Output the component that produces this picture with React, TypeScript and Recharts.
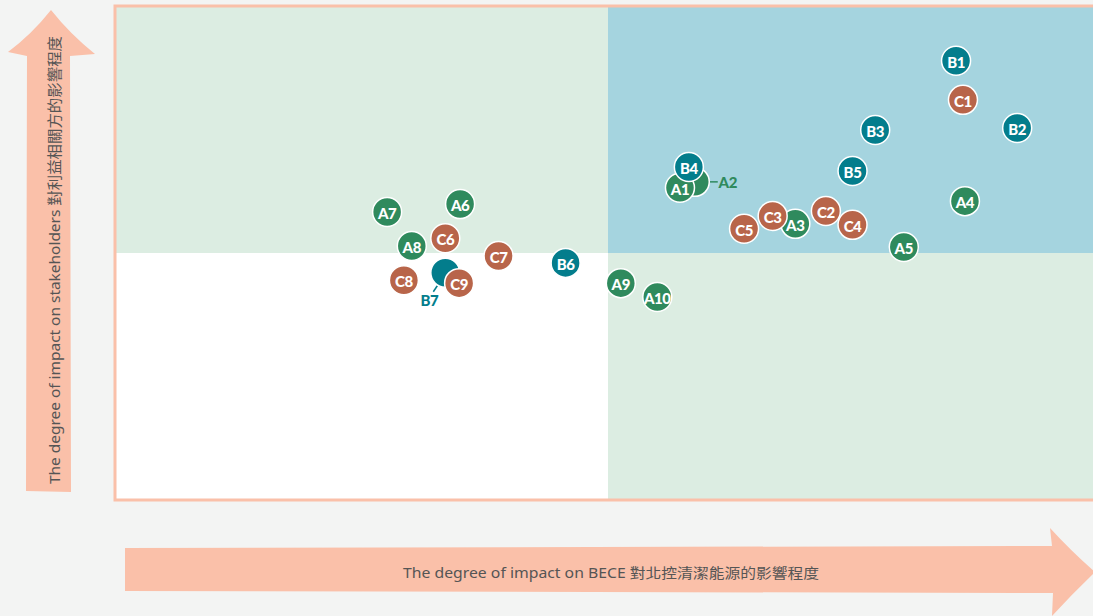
import React from 'react';
import { ScatterChart, Scatter, XAxis, YAxis, ReferenceArea } from 'recharts';

const GREEN = '#2f8a5d';
const TEAL = '#037d8c';
const RUST = '#b8654a';
const SALMON = '#fac0a9';
const Q_GREEN = '#dcede2';
const Q_BLUE = '#a5d4df';

// topics per group (A2 before A1 so A1 sits on top)
const aNames = ['A2', 'A1', 'A3', 'A4', 'A5', 'A6', 'A7', 'A8', 'A9', 'A10'];
const aX = [5.88, 5.73, 6.9, 8.62, 8.0, 3.5, 2.76, 3.01, 5.13, 5.5];
const aY = [6.44, 6.32, 5.59, 6.05, 5.12, 5.99, 5.83, 5.14, 4.39, 4.11];

const bNames = ['B1', 'B2', 'B3', 'B4', 'B5', 'B6', 'B7'];
const bX = [8.53, 9.15, 7.71, 5.82, 7.48, 4.57, 3.35];
const bY = [8.89, 7.53, 7.49, 6.74, 6.66, 4.8, 4.6];

const cNames = ['C1', 'C2', 'C4', 'C3', 'C5', 'C6', 'C7', 'C8', 'C9'];
const cX = [8.6, 7.21, 7.48, 6.67, 6.38, 3.35, 3.89, 2.93, 3.49];
const cY = [8.1, 5.85, 5.57, 5.75, 5.49, 5.3, 4.94, 4.45, 4.39];

const xLabel = 'The degree of impact on BECE 對北控清潔能源的影響程度';
const yLabel = 'The degree of impact on stakeholders 對利益相關方的影響程度';

const build = (names: string[], xs: number[], ys: number[]) =>
  names.map((name, i) => ({ name, x: xs[i], y: ys[i] }));

const aData = build(aNames, aX, aY);
const bData = build(bNames, bX, bY);
const cData = build(cNames, cX, cY);

// labels drawn outside the bubble
const CALLOUTS: Record<string, { dx: number; dy: number }> = {
  A2: { dx: 33, dy: 0 },
  B7: { dx: -16, dy: 27 },
};

const makeShape = (color: string) => (props: any) => {
  const { cx, cy, payload } = props;
  const callout = CALLOUTS[payload.name];
  const font = {
    fontFamily: 'Lato, "Noto Sans", sans-serif',
    fontWeight: 900,
    fontSize: 15,
    letterSpacing: -0.4,
  };
  if (callout) {
    const lx = cx + callout.dx;
    const ly = cy + callout.dy;
    const startX = cx + (callout.dx > 0 ? 15 : -8);
    const startY = cy + (callout.dy > 0 ? 13 : 0);
    const endX = lx + (callout.dx > 0 ? -10 : 4);
    const endY = ly + (callout.dy > 0 ? -8 : 0);
    return (
      <g>
        <line x1={startX} y1={startY} x2={endX} y2={endY} stroke={color} strokeWidth={1.5} />
        <circle cx={cx} cy={cy} r={14.5} fill={color} stroke="#fff" strokeWidth={1.5} />
        <text x={lx} y={ly} fill={color} textAnchor="middle" dominantBaseline="central" {...font}>
          {payload.name}
        </text>
      </g>
    );
  }
  return (
    <g>
      <circle cx={cx} cy={cy} r={14.5} fill={color} stroke="#fff" strokeWidth={1.5} />
      <text x={cx} y={cy + 1} fill="#fff" textAnchor="middle" dominantBaseline="central" {...font}>
        {payload.name}
      </text>
    </g>
  );
};

const Arrows = () => (
  <svg width={1093} height={616} style={{ position: 'absolute', left: 0, top: 0 }}>
    {/* vertical arrow */}
    <path
      d="M26 491 L27 56 L8 52 Q32 34 51 10 Q70 34 95 54 L70 56 L71 492 Z"
      fill={SALMON}
    />
    <text
      transform="translate(54 260) rotate(-90)"
      textAnchor="middle"
      dominantBaseline="central"
      fill="#555"
      fontSize={15}
      textLength={448}
      lengthAdjust="spacingAndGlyphs"
      style={{ fontFamily: '"Noto Sans", "Noto Sans CJK TC", sans-serif' }}
    >
      {yLabel}
    </text>
    {/* horizontal arrow */}
    <path
      d="M125 548 L1052 546 L1050 528 Q1072 552 1095 572 Q1072 594 1052 616 L1053 593 L125 591 Z"
      fill={SALMON}
    />
    <text
      x={611}
      y={572}
      textAnchor="middle"
      dominantBaseline="central"
      fill="#555"
      fontSize={14}
      textLength={416}
      lengthAdjust="spacingAndGlyphs"
      style={{ fontFamily: '"Noto Sans", "Noto Sans CJK TC", sans-serif' }}
    >
      {xLabel}
    </text>
  </svg>
);

export default function App() {
  return (
    <div
      style={{
        position: 'fixed',
        left: 0,
        top: 0,
        width: 1093,
        height: 616,
        overflow: 'hidden',
        background: '#f3f4f3',
      }}
    >
      <Arrows />
      <div style={{ position: 'absolute', left: 0, top: 0 }}>
        <ScatterChart width={1110} height={616} margin={{ top: 6, right: 9, bottom: 116, left: 115 }}>
          <XAxis type="number" dataKey="x" domain={[0, 10]} hide />
          <YAxis type="number" dataKey="y" domain={[0, 10]} hide />
          <ReferenceArea x1={0} x2={5} y1={5} y2={10} fill={Q_GREEN} fillOpacity={1} stroke="none" />
          <ReferenceArea x1={5} x2={10} y1={5} y2={10} fill={Q_BLUE} fillOpacity={1} stroke="none" />
          <ReferenceArea x1={0} x2={5} y1={0} y2={5} fill="#ffffff" fillOpacity={1} stroke="none" />
          <ReferenceArea x1={5} x2={10} y1={0} y2={5} fill={Q_GREEN} fillOpacity={1} stroke="none" />
          <ReferenceArea x1={0} x2={10} y1={0} y2={10} fill="none" stroke={SALMON} strokeWidth={3} />
          <Scatter data={aData} fill={GREEN} shape={makeShape(GREEN)} isAnimationActive={false} />
          <Scatter data={bData} fill={TEAL} shape={makeShape(TEAL)} isAnimationActive={false} />
          <Scatter data={cData} fill={RUST} shape={makeShape(RUST)} isAnimationActive={false} />
        </ScatterChart>
      </div>
    </div>
  );
}
